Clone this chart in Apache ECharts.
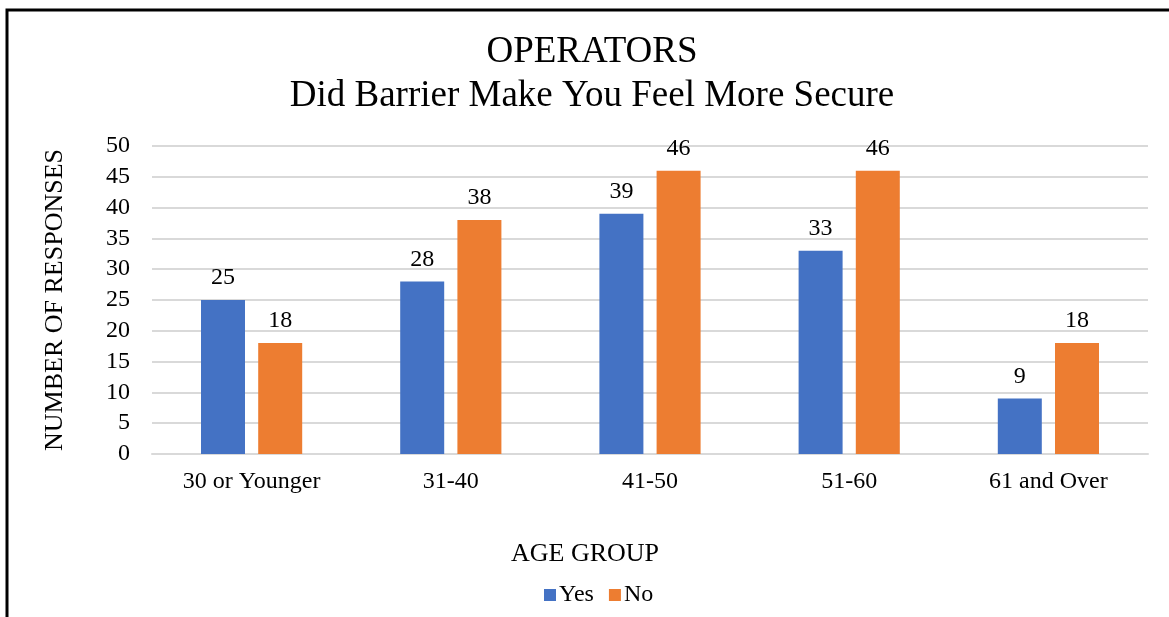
<!DOCTYPE html>
<html>
<head>
<meta charset="utf-8">
<script src="https://cdn.jsdelivr.net/npm/echarts@6/dist/echarts.min.js"></script>
<style>
  html, body { margin: 0; padding: 0; background: #fff; }
  #chart { width: 1169px; height: 617px; }
</style>
</head>
<body>
<div id="chart"></div>
<script>
// data
const ageGroups = ["30 or Younger", "31-40", "41-50", "51-60", "61 and Over"];
const yesValues = [25, 28, 39, 33, 9];
const noValues = [18, 38, 46, 46, 18];

const font = "'Liberation Serif', 'Times New Roman', serif";
const labelStyle = {
  show: true,
  position: "top",
  distance: 10,
  color: "#000",
  fontFamily: font,
  fontSize: 24
};

let chart = echarts.init(document.getElementById("chart"));
let option = {
  backgroundColor: "#fff",
  animation: false,
  title: {
    text: "OPERATORS\nDid Barrier Make You Feel More Secure",
    left: 592,
    top: 30,
    textAlign: "center",
    padding: 0,
    textStyle: {
      fontFamily: font,
      fontSize: 37,
      fontWeight: "normal",
      color: "#000",
      lineHeight: 44
    }
  },
  legend: {
    data: ["Yes", "No"],
    left: 539,
    top: 578,
    icon: "rect",
    itemWidth: 12,
    itemHeight: 12,
    itemGap: 15,
    textStyle: { fontFamily: font, fontSize: 24, color: "#000", padding: [0, 0, 0, -2] }
  },
  grid: { left: 152, right: 21, top: 146, bottom: 163 },
  xAxis: {
    type: "category",
    data: ageGroups,
    axisLine: { lineStyle: { color: "#d9d9d9", width: 2 } },
    axisTick: { show: false },
    axisLabel: { color: "#000", fontFamily: font, fontSize: 24, margin: 16 }
  },
  yAxis: {
    type: "value",
    min: 0,
    max: 50,
    interval: 5,
    name: "NUMBER OF RESPONSES",
    nameLocation: "middle",
    nameRotate: 90,
    nameGap: 84,
    nameTextStyle: { fontFamily: font, fontSize: 26, color: "#000" },
    axisLine: { show: false },
    axisTick: { show: false },
    axisLabel: { color: "#000", fontFamily: font, fontSize: 24, margin: 22 },
    splitLine: { lineStyle: { color: "#d9d9d9", width: 2 } }
  },
  graphic: [
    {
      type: "polyline",
      shape: { points: [[7, 617], [7, 10], [1169, 10]] },
      style: { stroke: "#000", lineWidth: 3, fill: null }
    },
    {
      type: "text",
      left: 511,
      top: 541,
      style: { text: "AGE GROUP", fontFamily: font, fontSize: 26, fill: "#000" }
    }
  ],
  series: [
    {
      name: "Yes",
      type: "bar",
      data: yesValues,
      barWidth: 44,
      barGap: "30%",
      itemStyle: { color: "#4472C4" },
      label: labelStyle
    },
    {
      name: "No",
      type: "bar",
      data: noValues,
      barWidth: 44,
      itemStyle: { color: "#ED7D31" },
      label: labelStyle
    }
  ]
};
chart.setOption(option);
</script>
</body>
</html>
